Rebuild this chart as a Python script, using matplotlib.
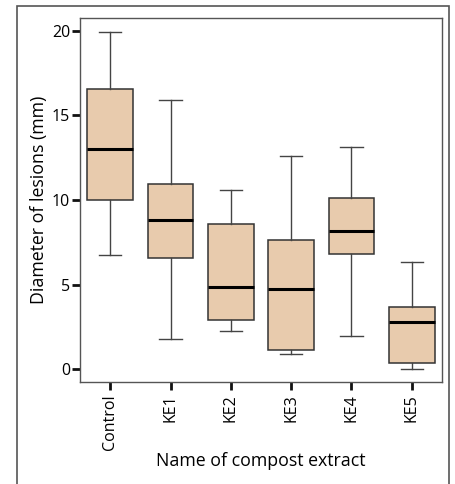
import matplotlib
matplotlib.use("Agg")
import matplotlib.pyplot as plt
from matplotlib.patches import Rectangle

plt.rcParams['font.family'] = ['Open Sans', 'DejaVu Sans']

groups = ["Control", "KE1", "KE2", "KE3", "KE4", "KE5"]
whislo = [6.73, 1.79, 2.24, 0.90, 1.95, 0.02]
q1 = [10.0, 6.56, 2.91, 1.14, 6.81, 0.37]
med = [13.0, 8.82, 4.86, 4.76, 8.19, 2.79]
q3 = [16.56, 10.93, 8.58, 7.64, 10.14, 3.70]
whishi = [19.92, 15.9, 10.59, 12.62, 13.15, 6.36]

stats = []
for i, g in enumerate(groups):
    stats.append(dict(label=g, whislo=whislo[i], q1=q1[i], med=med[i],
                      q3=q3[i], whishi=whishi[i], fliers=[]))

fig = plt.figure(figsize=(4.55, 4.84), dpi=100)
ax = fig.add_axes([80/455, 1 - 382/484, 362/455, 364/484])

ax.bxp(stats, positions=range(1, 7), widths=0.757, patch_artist=True,
       showfliers=False,
       boxprops=dict(facecolor='#E8CBAD', edgecolor='#333333', linewidth=1.1),
       medianprops=dict(color='black', linewidth=2.2),
       whiskerprops=dict(color='#444444', linewidth=1.0),
       capprops=dict(color='#444444', linewidth=1.0),
       capwidths=0.375)

ax.set_xlim(0.5, 6.5)
ax.set_ylim(-0.75, 20.75)
ax.set_yticks([0, 5, 10, 15, 20])
ax.set_xticks(range(1, 7))
ax.set_xticklabels(groups, rotation=90)
ax.tick_params(axis='both', direction='out', length=6, width=2, labelsize=11.5,
               color='#111111')
ax.tick_params(axis='y', pad=1)
ax.tick_params(axis='x', pad=3)
for s in ax.spines.values():
    s.set_color('#555555')
    s.set_linewidth(1.0)

ax.set_ylabel("Diameter of lesions (mm)", fontsize=12.8, labelpad=3)
ax.set_xlabel("Name of compost extract", fontsize=12.8, labelpad=1)

# outer frame around the chart
fig.patches.append(Rectangle((17/455, -0.05), 432/455, 1.05 - 6/484,
                             transform=fig.transFigure, fill=False,
                             edgecolor='#555555', linewidth=1.2))

fig.savefig("out.png", dpi=100)
